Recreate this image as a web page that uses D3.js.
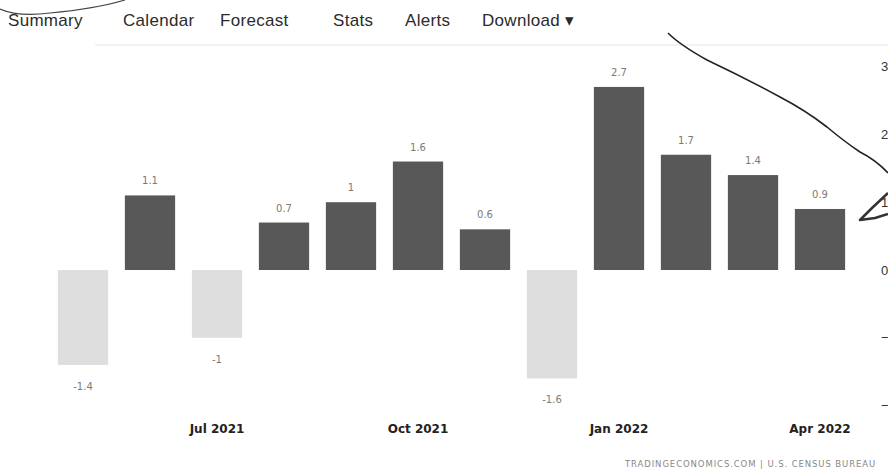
<!DOCTYPE html>
<html>
<head>
<meta charset="utf-8">
<script src="https://cdn.jsdelivr.net/npm/d3@7"></script>
<style>
  body { margin: 0; background: #fff; }
  svg { display: block; }
  .nav { font-family: "Liberation Sans", Arial, sans-serif; font-size: 17px; fill: #2b2b2b; letter-spacing: 0.3px; }
  .val { font-family: "DejaVu Sans", sans-serif; font-size: 10px; fill: #7a7a7a; }
  .xaxis text { font-family: "DejaVu Sans", sans-serif; font-weight: bold; font-size: 12px; fill: #222; }
  .yaxis text { font-family: "Liberation Sans", Arial, sans-serif; font-size: 13px; fill: #333; }
</style>
</head>
<body>
<div id="chart"></div>
<script>
document.addEventListener("DOMContentLoaded", function () {
    // Data
    const months = ["2021-05", "2021-06", "2021-07", "2021-08", "2021-09", "2021-10",
                    "2021-11", "2021-12", "2022-01", "2022-02", "2022-03", "2022-04"];
    const values = [-1.4, 1.1, -1, 0.7, 1, 1.6, 0.6, -1.6, 2.7, 1.7, 1.4, 0.9];
    const xTickMonths = ["2021-07", "2021-10", "2022-01", "2022-04"];
    const xTickLabels = ["Jul 2021", "Oct 2021", "Jan 2022", "Apr 2022"];
    const yTicks = [3, 2, 1, 0, -1, -2];
    const navItems = ["Summary", "Calendar", "Forecast", "Stats", "Alerts", "Download \u25BE"];
    const navX = [8, 123, 220, 333, 405, 482];

    const width = 888, height = 470;

    const svg = d3.select("#chart").append("svg")
        .attr("width", width)
        .attr("height", height);

    // nav bar
    svg.selectAll("text.nav")
        .data(navItems)
        .enter()
        .append("text")
        .attr("class", "nav")
        .attr("x", (d, i) => navX[i])
        .attr("y", 26)
        .text(d => d);

    svg.append("line")
        .attr("x1", 95).attr("x2", 888)
        .attr("y1", 45).attr("y2", 45)
        .style("stroke", "#eee")
        .style("stroke-width", 1.5);

    // scales
    const x = d3.scaleBand()
        .domain(months)
        .range([49.5, 853.5])
        .paddingInner(0.25)
        .paddingOuter(0.125);

    const y = d3.scaleLinear()
        .domain([-2, 3])
        .range([405.6, 66.6]);

    // bars
    svg.selectAll("rect.bar")
        .data(months)
        .enter()
        .append("rect")
        .attr("class", "bar")
        .attr("x", d => x(d))
        .attr("width", x.bandwidth())
        .attr("y", (d, i) => y(Math.max(0, values[i])))
        .attr("height", (d, i) => Math.abs(y(values[i]) - y(0)))
        .style("fill", (d, i) => values[i] >= 0 ? "#585858" : "#dedede");

    // value labels
    svg.selectAll("text.val")
        .data(months)
        .enter()
        .append("text")
        .attr("class", "val")
        .attr("text-anchor", "middle")
        .attr("x", d => x(d) + x.bandwidth() / 2)
        .attr("y", (d, i) => values[i] >= 0 ? y(values[i]) - 11 : y(values[i]) + 25)
        .text((d, i) => values[i]);

    // x axis
    svg.append("g")
        .attr("class", "xaxis")
        .attr("transform", "translate(0,421)")
        .call(d3.axisBottom(x)
            .tickValues(xTickMonths)
            .tickSize(0)
            .tickFormat(d => xTickLabels[xTickMonths.indexOf(d)]))
        .call(g => g.select(".domain").remove());

    // y axis (right edge, clipped like the source)
    svg.append("g")
        .attr("class", "yaxis")
        .attr("transform", "translate(872,0)")
        .call(d3.axisRight(y).tickValues(yTicks).tickSize(0).tickPadding(9).tickFormat(d3.format("d")))
        .call(g => g.select(".domain").remove());

    // source
    svg.append("text")
        .attr("x", 625)
        .attr("y", 467)
        .style("font-family", "DejaVu Sans, sans-serif")
        .style("font-size", "8.5px")
        .style("fill", "#888")
        .style("letter-spacing", "0.9px")
        .text("TRADINGECONOMICS.COM | U.S. CENSUS BUREAU");

    // hand-drawn marks
    svg.append("path")
        .attr("d", "M0,9 Q18,17 50,13 Q95,9 125,0")
        .style("fill", "none")
        .style("stroke", "#444")
        .style("stroke-width", 1.2);

    svg.append("path")
        .attr("d", "M668,33 Q680,45 707,60 Q745,78 780,97 Q805,110 827,127 Q845,142 860,152 Q876,160 888,173")
        .style("fill", "none")
        .style("stroke", "#222")
        .style("stroke-width", 1.6);

    svg.append("path")
        .attr("d", "M888,193 L872,208 L860,220 L875,218 L888,214")
        .style("fill", "none")
        .style("stroke", "#333")
        .style("stroke-width", 2.5)
        .style("stroke-linejoin", "round");
});
</script>
</body>
</html>
